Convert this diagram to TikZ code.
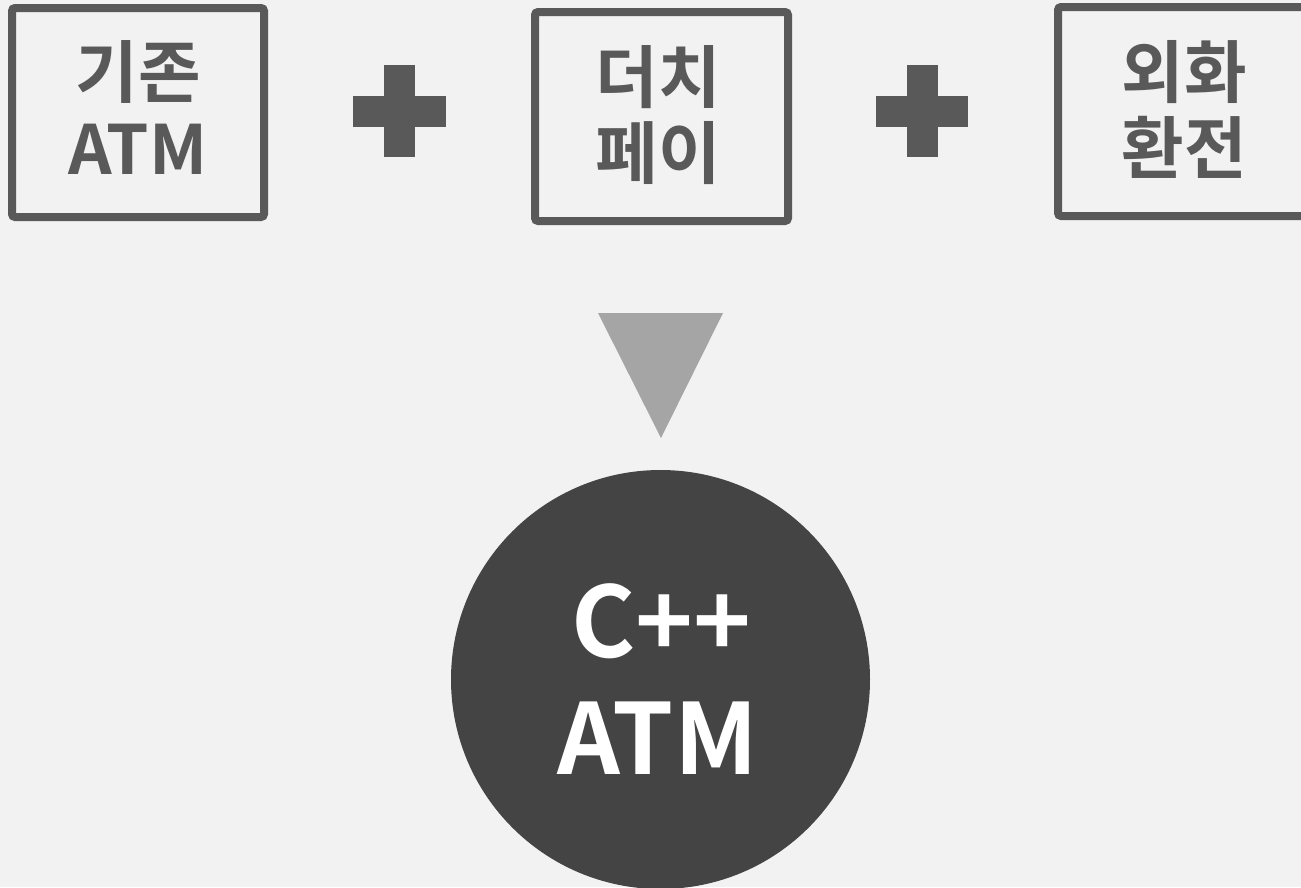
\documentclass[tikz,border=0pt]{standalone}
\usepackage{fontspec}
\setmainfont{Noto Sans CJK KR}[BoldFont={Noto Sans CJK KR Bold}]
\definecolor{bg}{HTML}{F2F2F2}
\definecolor{dark}{HTML}{595959}
\definecolor{tri}{HTML}{A5A5A5}
\definecolor{circ}{HTML}{444444}
\begin{document}
\begin{tikzpicture}[x=1pt,y=-1pt,
  stepbox/.style={draw=dark,line width=8pt,rounded corners=3pt,fill=none,inner sep=0pt},
  lbl/.style={anchor=base,inner sep=0pt,text=dark,font=\bfseries\fontsize{68}{76}\selectfont},
  big/.style={anchor=base,inner sep=0pt,text=white,font=\bfseries\fontsize{98}{116}\selectfont},
  plusbar/.style={fill=dark,draw=none,inner sep=0pt}]
\fill[bg] (0,0) rectangle (1301,887);
\useasboundingbox (0,0) rectangle (1301,887);
% boxes
\node[stepbox,minimum width=252pt,minimum height=209pt] (b1) at (138,112.5) {};
\node[stepbox,minimum width=253pt,minimum height=209pt] (b2) at (661.5,116.5) {};
\node[stepbox,minimum width=260pt,minimum height=209pt] (b3) at (1188,111.5) {};
% labels
\node[lbl] (t1a) at (138,97) {기존};
\node[lbl] (t1b) at (138,174) {ATM};
\node[lbl] (t2a) at (658,102) {더치};
\node[lbl] (t2b) at (658,178) {페이};
\node[lbl] (t3a) at (1184,97) {외화};
\node[lbl] (t3b) at (1184,173) {환전};
% plus signs
\node[plusbar,minimum width=93pt,minimum height=31pt] (p1h) at (399.5,111.5) {};
\node[plusbar,minimum width=31pt,minimum height=92pt] (p1v) at (399.5,111) {};
\node[plusbar,minimum width=92pt,minimum height=31pt] (p2h) at (922,111.5) {};
\node[plusbar,minimum width=31pt,minimum height=92pt] (p2v) at (922.5,111) {};
% triangle
\coordinate (ta) at (598,313);
\coordinate (tb) at (723,313);
\coordinate (tc) at (661,438);
\fill[tri] (ta) -- (tb) -- (tc) -- cycle;
% circle
\node[circle,fill=circ,minimum size=419pt,inner sep=0pt] (c) at (660.5,679.5) {};
\node[big] (c1) at (661.5,657) {C++};
\node[big] (c2) at (657.5,774) {ATM};
\end{tikzpicture}
\end{document}
